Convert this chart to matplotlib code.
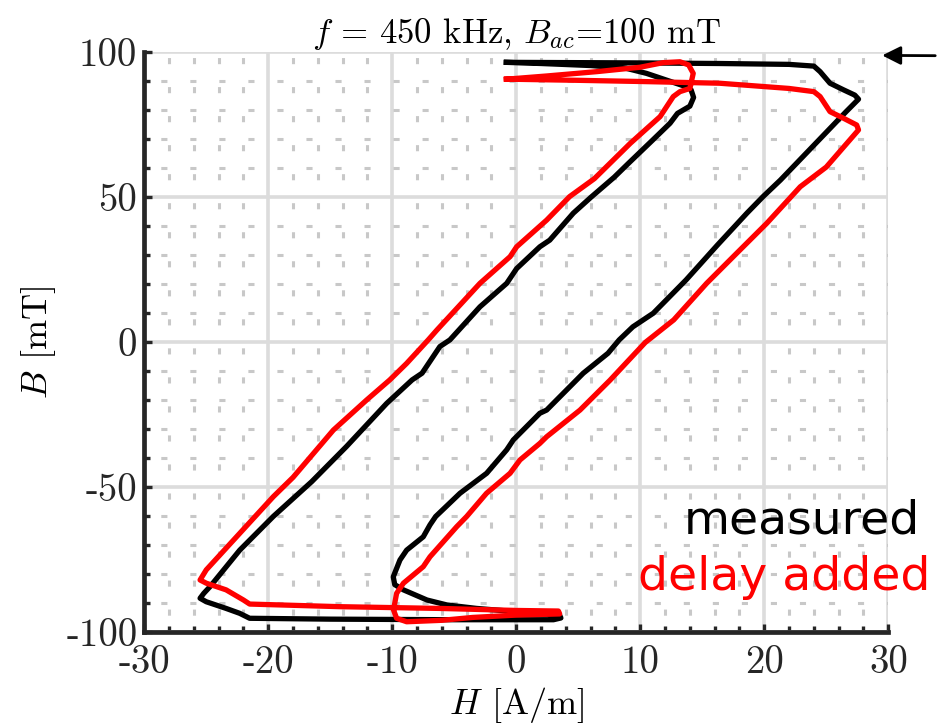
import matplotlib
matplotlib.use("Agg")
import matplotlib.pyplot as plt
from matplotlib.ticker import MultipleLocator

plt.rcParams['font.family'] = 'cmr10'
plt.rcParams['mathtext.fontset'] = 'cm'
plt.rcParams['axes.unicode_minus'] = False
plt.rcParams['axes.formatter.use_mathtext'] = False

# measured loop (H in A/m, B in mT)
h_meas = [-0.8, 5, 10, 16.4, 22, 24.0, 24.5, 25.3, 26.4, 27.3, 27.6, 26.6,
          21.3, 19.9, 18.6, 16.2, 13.7, 11.05, 9.4, 8.3, 7.4, 5.4, 2.45, 1.9,
          -0.24, -0.77, -2.39, -4.54, -6.5, -6.96, -7.5, -8.84, -9.38, -9.92,
          -9.8, -9.1, -7.2, -5.6, -3.2, 0.5, 3.5, 3.6, 3.0, -5, -15, -21.5,
          -22.3, -23.4, -25.0, -25.5, -25.2, -24.7, -22.3, -19.6, -16.5, -13.7,
          -10.45, -8.4, -7.6, -6.16, -5.35, -2.93, -0.77, 0.03, 1.9, 2.7, 4.6,
          6.0, 7.9, 9.1, 11.0, 12.4, 13.0, 14.0, 14.3, 14.1, 13.7, 12.1, 10.5,
          8.9, 6, 2, -0.8]
b_meas = [96.6, 96.5, 96.4, 96.2, 95.9, 95.3, 93.4, 89.4, 87.1, 85.3, 83.9, 79.6,
          56, 50.3, 44.6, 33.5, 21.6, 10.1, 5.4, 0.9, -3.7, -10.6, -23.3, -24.4,
          -33.6, -37, -45.1, -52, -60, -62.9, -67, -71.6, -75, -80.8,
          -83.5, -85.3, -88.8, -90.5, -91.7, -93.0, -94.1, -95.0, -95.6, -95.6, -95.4, -95.1,
          -93.4, -91.7, -89.4, -88.2, -86.5, -84.2, -71.6, -60, -48, -35.9,
          -21, -12.9, -10.6, -1.4, 0.9, 12.3, 20.4, 25.5, 33, 35.3, 44.6,
          50, 57, 62, 69.8, 75.6, 79, 81.5, 84.5, 87.1, 88.2, 90.5, 92.8,
          94.5, 95.5, 96.2, 96.6]

# loop with delay added
h_delay = [-0.8, 5, 10, 16.4, 22, 24.0, 24.5, 25.3, 26.4, 27.45, 27.6, 25.0,
           22.9, 20.2, 17.5, 15.35, 12.7, 10.4, 7.56, 5.14, 2.45, 1.9, 0.3,
           -0.5, -2.4, -4.0, -4.8, -6.96, -7.5, -9.1, -9.65, -9.9, -9.65,
           -8.84, -6, -3.5, 0, 3.5, 3.4, 0, -6.2, -14.2, -21.5, -22, -23.4,
           -25, -25.5, -25, -22.3, -19.6, -18, -14.75, -12.06, -10.2, -8.84,
           -7.1, -6.4, -2.93, -0.5, 0.03, 2.45, 4.3, 6.3, 9.2, 11.6, 12.66,
           13.2, 14.0, 14.27, 13.9, 13.2, 11.85, 9.97, 6.5, 2.45, -0.8]
b_delay = [90.8, 90.4, 90.0, 89.4, 87.6, 86.5, 84.8, 79.6, 77.3, 75, 73.3, 60.5,
           53.7, 41.1, 29.6, 20.4, 7.8, 0, -13, -23.3, -32.5, -34.8, -40.5,
           -45.1, -52, -60, -63.5, -73.9, -77.3, -83, -86.5, -92.2, -95.1,
           -96.3, -95.8, -94.8, -94.0, -93.6, -92.6, -92.4, -91.7, -91.1, -90.2, -88.8, -85.3,
           -83, -81.9, -78.4, -65.8, -53.2, -46.5, -30.2, -19.8, -12.9, -7.2,
           0.9, 4.3, 20.4, 29.6, 33, 42.2, 50.3, 56.5, 68.7, 77.9, 84.8,
           86.5, 87.6, 92.8, 95.7, 96.8, 96.5, 94.9, 93.4, 91.9, 90.8]

fig = plt.figure(figsize=(9.38, 7.27), dpi=100)
ax = fig.add_axes([0.1538, 0.13, 0.7932, 0.7978])

ax.plot(h_meas, b_meas, color='black', lw=3.8, solid_joinstyle='round', zorder=3)
ax.plot(h_delay, b_delay, color='#ff0000', lw=3.8, solid_joinstyle='round', zorder=4)

ax.set_xlim(-30, 30)
ax.set_ylim(-100, 100)
ax.xaxis.set_major_locator(MultipleLocator(10))
ax.xaxis.set_minor_locator(MultipleLocator(2))
ax.yaxis.set_major_locator(MultipleLocator(50))
ax.yaxis.set_minor_locator(MultipleLocator(10))

ax.set_axisbelow(True)
ax.grid(which='major', color='#dcdcdc', lw=2.6)
ax.grid(which='minor', color='#c8c8c8', lw=2.2, linestyle=(4, (2.0, 7.5)))

for s in ['top', 'right']:
    ax.spines[s].set_visible(False)
for s in ['left', 'bottom']:
    ax.spines[s].set_linewidth(3.4)
    ax.spines[s].set_color('#262626')

ax.tick_params(which='both', direction='in', color='#262626', width=2.4,
               labelsize=28, labelcolor='#262626')
ax.tick_params(which='major', length=6)
ax.tick_params(which='minor', length=4)
ax.tick_params(axis='x', pad=9)
ax.tick_params(axis='y', pad=5)

ax.set_xlabel(r'$H$ [A/m]', fontsize=26, labelpad=3)
ax.set_ylabel(r'$B$ [mT]', fontsize=26, labelpad=6)
ax.set_title(r'$f$ = 450 kHz, $B_{ac}$=100 mT', fontsize=25, pad=5)

ax.annotate('', xy=(0.988, 0.995), xycoords='axes fraction',
            xytext=(1.0, 1 - 55.7 / 727), textcoords='figure fraction',
            arrowprops=dict(arrowstyle='-|>', color='black', lw=2, mutation_scale=28))

fig.text(920 / 938, 1 - 533 / 727, 'measured', color='black', family='DejaVu Sans',
         fontsize=34, ha='right', va='baseline')
fig.text(930 / 938, 1 - 590 / 727, 'delay added', color='#ff0000', family='DejaVu Sans',
         fontsize=34, ha='right', va='baseline')

fig.savefig('out.png', dpi=100)
